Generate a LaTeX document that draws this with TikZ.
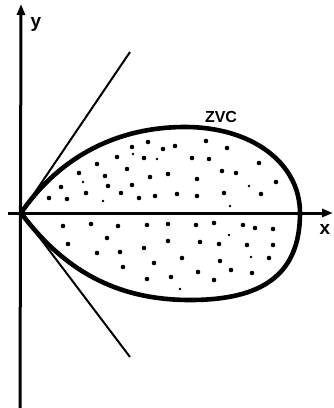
\documentclass[tikz,border=0pt]{standalone}
\usepackage{fontspec}
\setmainfont{Liberation Sans}
\usetikzlibrary{arrows.meta}
\begin{document}
\begin{tikzpicture}[x=1pt,y=-1pt,
  axis/.style={line width=3pt,-{Triangle[length=11pt,width=8pt]}},
  zvc/.style={line width=4.6pt,line join=round},
  tang/.style={line width=2pt},
  lab/.style={font=\fontsize{19}{22}\selectfont\bfseries,inner sep=0pt},
  dot/.style={fill=black},
]
\useasboundingbox (0,0) rectangle (333,408);
\coordinate (O) at (21,213);
\coordinate (xs) at (8,213);
\coordinate (xe) at (333,213);
\coordinate (ys) at (20,408);
\coordinate (ye) at (21,4);
\coordinate (tu) at (130,52);
\coordinate (tl) at (130,357);
\draw[axis] (xs) -- (xe);
\draw[axis] (ys) -- (ye);
\draw[tang] (O) -- (tu);
\draw[tang] (O) -- (tl);
\draw[zvc] (O) .. controls (55,163) and (110,127) .. (185,127)
  .. controls (252,127) and (300,163) .. (300,213)
  .. controls (300,275) and (262,300) .. (190,300)
  .. controls (115,300) and (63,269) .. (O);
\node[lab] (ylab) at (36,24) {y};
\node[lab] (xlab) at (325,229) {x};
\node[font=\fontsize{16}{20}\selectfont\bfseries,inner sep=0pt] (zvclab) at (221,117) {ZVC};
% dots
\foreach \p in {(132,147),(148,142),(163,149),(144,158),(117,157),(97,164),(127,169),(168,174),(79,173),(105,176),(150,177),(61,187),(108,186),(132,185),(86,193),(121,193),(155,196),(49,198),(67,199),(139,198),
(175,146),(206,141),(227,148),(192,158),(209,159),(259,163),(222,171),(236,173),(197,179),(276,182),(177,194),(197,196),(224,193),(261,194),
(63,226),(91,224),(118,226),(147,225),(168,224),(68,244),(107,238),(97,253),(120,252),(144,248),(168,241),(123,267),(154,263),(147,279),
(196,225),(214,223),(243,225),(255,228),(273,229),(200,242),(219,244),(247,245),(273,245),(182,258),(220,261),(269,258),(198,272),(231,270),(252,273),(171,277),(214,280)}
  \fill[dot] \p circle (2.3);
\foreach \p in {(133,154),(157,159),(83,182),(103,201),(249,186),(230,206),(229,235),(251,257),(180,289)}
  \fill[dot] \p circle (1.4);
\end{tikzpicture}
\end{document}
